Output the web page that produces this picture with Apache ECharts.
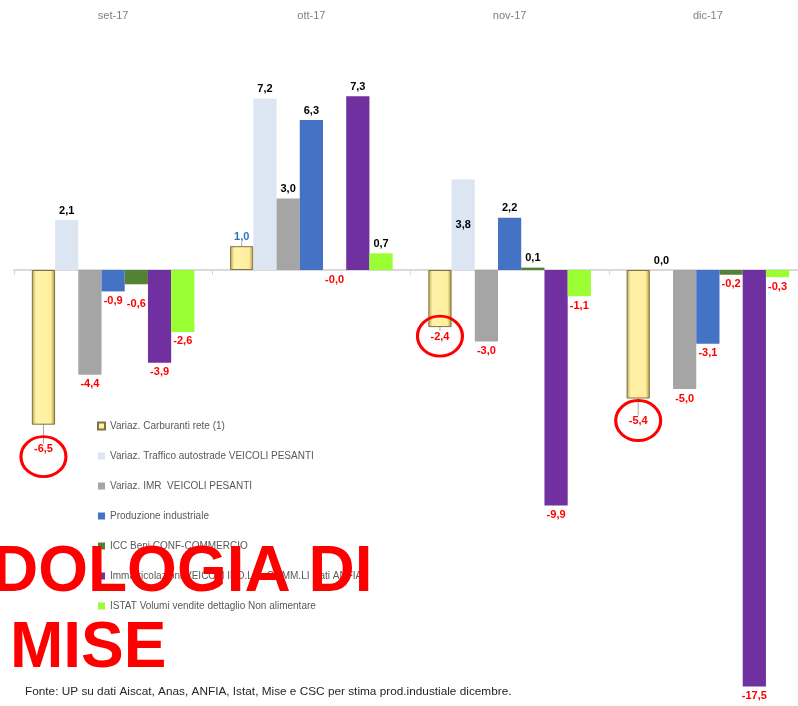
<!DOCTYPE html>
<html>
<head>
<meta charset="utf-8">
<script src="https://cdn.jsdelivr.net/npm/echarts@6/dist/echarts.min.js"></script>
<style>html,body{margin:0;padding:0;background:#fff}#c{width:798px;height:706px}</style>
</head>
<body>
<div id="c"></div>
<script>
const categories = ['set-17', 'ott-17', 'nov-17', 'dic-17'];
const carburanti = [-6.5, 1.0, -2.4, -5.4];
const traffico = [2.1, 7.2, 3.8, 0.0];
const imr = [-4.4, 3.0, -3.0, -5.0];
const produzione = [-0.9, 6.3, 2.2, -3.1];
const icc = [-0.6, -0.0, 0.1, -0.2];
const immatricolazioni = [-3.9, 7.3, -9.9, -17.5];
const istat = [-2.6, 0.7, -1.1, -0.3];
const seriesNames = [
  'Variaz. Carburanti rete (1)',
  'Variaz. Traffico autostrade VEICOLI PESANTI',
  'Variaz. IMR  VEICOLI PESANTI',
  'Produzione industriale',
  'ICC Beni CONF-COMMERCIO',
  'Immatricolazioni VEICOLI IND.LI e COMM.LI Dati ANFIA',
  'ISTAT Volumi vendite dettaglio Non alimentare'
];
const circled = [0, 2, 3];
const footer = 'Fonte: UP su dati Aiscat, Anas, ANFIA, Istat, Mise e CSC per stima prod.industiale dicembre.';

const allData = [carburanti, traffico, imr, produzione, icc, immatricolazioni, istat];
const colors = ['#F5E38A', '#DCE6F2', '#A5A5A5', '#4472C4', '#548235', '#7030A0', '#99FF33'];
const sans = '"Liberation Sans", Arial, sans-serif';

function isNeg(v) { return v < 0 || Object.is(v, -0); }
function fmt(v) { return (isNeg(v) ? '-' : '') + Math.abs(v).toFixed(1).replace('.', ','); }

const yellowGrad = {
  type: 'linear', x: 0, y: 0, x2: 1, y2: 0,
  colorStops: [
    { offset: 0, color: '#B8A450' },
    { offset: 0.18, color: '#FFF2A8' },
    { offset: 0.82, color: '#FFEE9E' },
    { offset: 1, color: '#A8943F' }
  ]
};

const labelOverrides = {
  '0-0': { dyExtra: 15 },
  '0-1': { color: '#2E75B6' },
  '0-3': { dyExtra: 13 },
  '1-2': { position: 'inside' },
  '4-0': { offset: [0, 10] }
};

const series = allData.map((arr, s) => {
  const item = {
    name: seriesNames[s],
    type: 'bar',
    barGap: '0%',
    barCategoryGap: '18%',
    itemStyle: { color: colors[s] },
    data: arr.map((v, i) => {
      const ov = labelOverrides[s + '-' + i] || {};
      const lab = {
        position: ov.position || (isNeg(v) ? 'bottom' : 'top'),
        color: ov.color || (isNeg(v) ? '#FF0000' : '#000000')
      };
      if (ov.offset) lab.offset = ov.offset;
      return { value: v, label: lab };
    }),
    label: {
      show: true,
      distance: 4,
      fontFamily: sans,
      fontWeight: 'bold',
      fontSize: 11,
      formatter: p => fmt(allData[p.seriesIndex][p.dataIndex])
    }
  };
  if (s === 0) {
    item.itemStyle = { color: yellowGrad, borderColor: '#7F7240', borderWidth: 1 };
    item.labelLayout = p => {
      const ov = labelOverrides['0-' + p.dataIndex];
      return ov && ov.dyExtra ? { dy: ov.dyExtra } : {};
    };
    item.labelLine = { show: true, lineStyle: { color: '#A6A6A6', width: 1 } };
    item.markPoint = {
      symbol: 'circle',
      symbolSize: [45, 40],
      itemStyle: { color: 'rgba(0,0,0,0)', borderColor: '#FF0000', borderWidth: 3 },
      label: { show: false },
      data: circled.map((i, k) => ({
        coord: [i, carburanti[i]],
        symbolOffset: [0, [32, 9, 22][k]]
      }))
    };
  }
  return item;
});

const chart = echarts.init(document.getElementById('c'), null, { renderer: 'canvas' });
chart.setOption({
  animation: false,
  backgroundColor: '#ffffff',
  grid: { left: 14, top: 32, width: 793, height: 666.4, outerBoundsMode: 'none', containLabel: false },
  legend: {
    orient: 'vertical',
    left: 92,
    top: 414,
    itemWidth: 7,
    itemHeight: 7,
    itemGap: 16,
    icon: 'rect',
    textStyle: { color: '#595959', fontSize: 10, fontFamily: sans, lineHeight: 14 },
    data: seriesNames
  },
  xAxis: [
    {
      type: 'category',
      data: categories,
      position: 'top',
      axisLine: { show: false, onZero: false },
      axisTick: { show: false },
      axisLabel: { color: '#7F7F7F', fontSize: 11, fontFamily: sans, margin: 11 }
    },
    {
      type: 'category',
      data: categories,
      position: 'bottom',
      axisLine: { show: true, onZero: true, lineStyle: { color: '#D9D9D9', width: 2 } },
      axisTick: { show: true, length: 5, lineStyle: { color: '#D9D9D9' } },
      axisLabel: { show: false }
    }
  ],
  yAxis: {
    type: 'value',
    min: -18,
    max: 10,
    show: false,
    splitLine: { show: false }
  },
  series: series,
  graphic: [
    {
      type: 'text', z: 100, x: -8, y: 573,
      style: { text: 'DOLOGIA DI', font: 'bold 64px ' + sans, fill: '#FF0000', verticalAlign: 'middle' }
    },
    {
      type: 'text', z: 100, x: 10, y: 649,
      style: { text: 'MISE', font: 'bold 64px ' + sans, fill: '#FF0000', verticalAlign: 'middle' }
    },
    {
      type: 'text', z: 100, x: 25, y: 692,
      style: { text: footer, font: '11.8px ' + sans, fill: '#262626', verticalAlign: 'middle' }
    }
  ]
});
</script>
</body>
</html>
